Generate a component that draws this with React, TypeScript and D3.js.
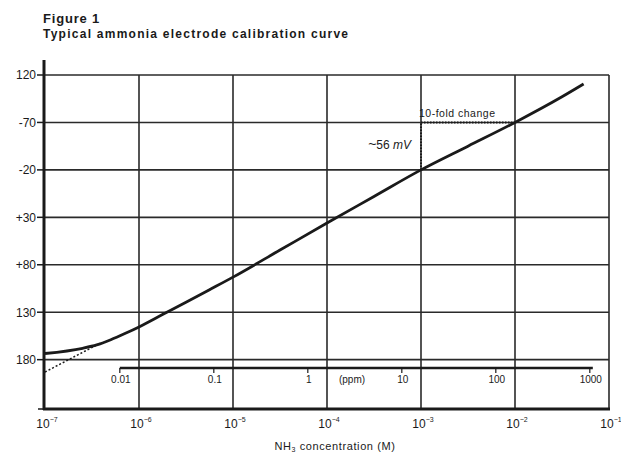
import React from 'react';
import * as d3 from 'd3';

const W = 621;
const H = 453;

// Y axis (mV) gridlines and the labels as printed
const yTicks = [-120, -70, -20, 30, 80, 130, 180];
const yTickLabels = ['120', '-70', '-20', '+30', '+80', '130', '180'];
const yDomain = [-120, 232];

// X axis: NH3 concentration (M), decades
const xTickExponents = [-7, -6, -5, -4, -3, -2, -1];

// Calibration curve: log10(M) vs mV
const curveLogM = [-7.0, -6.6, -6.45, -6.3, -6.15, -6.0, -5.75, -5.5, -5.25, -5.0, -4.5, -4.0, -3.5, -3.0, -2.5, -2.0, -1.5, -1.27];
const curveMV = [173.5, 168, 164.5, 159, 152.5, 145.5, 132.5, 119.5, 106.3, 93, 64.5, 36, 8, -20, -45, -70, -97, -110.5];

// Dotted extrapolation of the linear (Nernstian) part at low concentration
const dottedLogM = [-7.0, -6.4];
const dottedMV = [193, 162];

// ppm secondary scale
const ppmValues = [0.01, 0.1, 1, 10, 100, 1000];
const ppmLabels = ['0.01', '0.1', '1', '10', '100', '1000'];
const PPM_PER_MOLAR = 16000;

// 10-fold change annotation
const foldFrom = 1e-3;
const foldTo = 1e-2;
const foldMVFrom = -20;
const foldMVTo = -70;

export default function App() {
  const x = d3.scaleLog().domain([1e-7, 1e-1]).range([45, 609]);
  const y = d3.scaleLinear().domain(yDomain).range([75, 409]);

  const pts: [number, number][] = curveLogM.map((l, i) => [Math.pow(10, l), curveMV[i]]);
  const dpts: [number, number][] = dottedLogM.map((l, i) => [Math.pow(10, l), dottedMV[i]]);
  const line = d3
    .line<[number, number]>()
    .x((d) => x(d[0]))
    .y((d) => y(d[1]))
    .curve(d3.curveMonotoneX);

  const x0 = x(1e-7);
  const x1 = x(1e-1);
  const yTop = y(yDomain[0]);
  const yBot = y(yDomain[1]);
  const ppmY = 368;
  const ppmX = (p: number) => x(p / PPM_PER_MOLAR);
  const font = 'Liberation Sans, Arial, sans-serif';
  const ink = '#1a1a1a';

  return (
    <svg
      width={W}
      height={H}
      style={{ position: 'absolute', left: 0, top: 0, background: '#fff' }}
      fontFamily={font}
    >
      <rect x={0} y={0} width={W} height={H} fill="#fff" />
      <text x={43} y={23} fontSize={13} fontWeight="bold" letterSpacing={0.8} fill={ink}>Figure 1</text>
      <text x={43} y={38} fontSize={12} fontWeight="bold" letterSpacing={1.25} fill={ink}>Typical ammonia electrode calibration curve</text>

      {/* horizontal gridlines */}
      {yTicks.map((t) => (
        <line key={'h' + t} x1={x0} x2={x1} y1={y(t)} y2={y(t)} stroke="#2a2a2a" strokeWidth={1.6} />
      ))}
      {/* vertical gridlines */}
      {xTickExponents.slice(1).map((e) => (
        <line key={'v' + e} x1={x(Math.pow(10, e))} x2={x(Math.pow(10, e))} y1={yTop} y2={yBot} stroke="#2a2a2a" strokeWidth={1.6} />
      ))}

      {/* axes */}
      <line x1={x0 - 1} x2={x0 - 1} y1={60} y2={yBot + 1} stroke={ink} strokeWidth={3} />
      <line x1={x0 - 2} x2={x1 + 1} y1={yBot} y2={yBot} stroke={ink} strokeWidth={3} />
      {yTicks.map((t) => (
        <line key={'t' + t} x1={37} x2={x0} y1={y(t)} y2={y(t)} stroke={ink} strokeWidth={1.5} />
      ))}
      <line x1={38} x2={x0} y1={yBot} y2={yBot} stroke={ink} strokeWidth={1.5} />

      {yTicks.map((t, i) => (
        <text key={'yl' + t} x={36} y={y(t) + 4.3} fontSize={12} textAnchor="end" fill={ink}>
          {yTickLabels[i]}
        </text>
      ))}
      {xTickExponents.map((e) => (
        <text key={'xl' + e} x={x(Math.pow(10, e)) + 2} y={428} fontSize={12} textAnchor="middle" fill={ink}>
          10
          <tspan fontSize={7} dy={-6}>{'\u2212' + Math.abs(e)}</tspan>
        </text>
      ))}
      <text x={335} y={450} fontSize={11} letterSpacing={0.6} textAnchor="middle" fill={ink}>
        NH<tspan fontSize={7} dy={2}>3</tspan><tspan dy={-2}> concentration (M)</tspan>
      </text>

      {/* ppm scale */}
      <line x1={ppmX(ppmValues[0])} x2={ppmX(ppmValues[ppmValues.length - 1]) + 3} y1={ppmY} y2={ppmY} stroke={ink} strokeWidth={2.5} />
      {ppmValues.map((p, i) => (
        <g key={'p' + p}>
          <line x1={ppmX(p)} x2={ppmX(p)} y1={ppmY} y2={ppmY + 5} stroke={ink} strokeWidth={1.2} />
          <text x={ppmX(p) + 1} y={383} fontSize={10} textAnchor="middle" fill={ink}>{ppmLabels[i]}</text>
        </g>
      ))}
      <text x={352} y={383} fontSize={10} textAnchor="middle" fill={ink}>(ppm)</text>

      {/* curves */}
      <path d={line(dpts) || ''} fill="none" stroke={ink} strokeWidth={1.5} strokeDasharray="2,2" />
      <path d={line(pts) || ''} fill="none" stroke={ink} strokeWidth={2.8} strokeLinejoin="round" />

      {/* 10-fold annotation */}
      <line x1={x(foldFrom)} x2={x(foldFrom)} y1={y(foldMVFrom)} y2={y(foldMVTo)} stroke={ink} strokeWidth={2} strokeDasharray="1.5,1.5" />
      <line x1={x(foldFrom)} x2={x(foldTo)} y1={y(foldMVTo)} y2={y(foldMVTo)} stroke={ink} strokeWidth={2} strokeDasharray="1.5,1.5" />
      <text x={x(foldFrom) - 2} y={117} fontSize={10.5} letterSpacing={0.5} fill={ink}>10-fold change</text>
      <text x={x(foldFrom) - 10} y={149} fontSize={12} textAnchor="end" fill={ink}>
        <tspan fontSize={14}>~</tspan>56 <tspan fontStyle="italic">mV</tspan>
      </text>
    </svg>
  );
}
